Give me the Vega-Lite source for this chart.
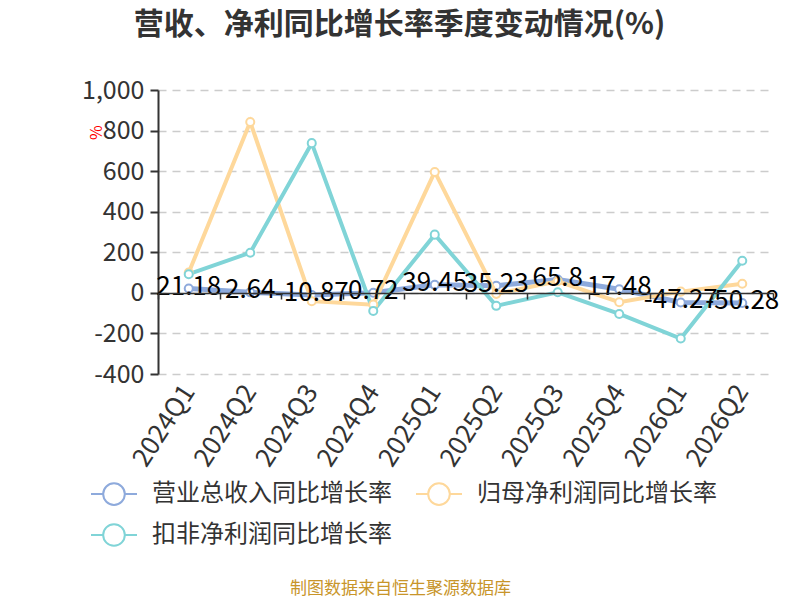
{
  "$schema": "https://vega.github.io/schema/vega-lite/v6.json",
  "width": 615,
  "height": 284,
  "autosize": {"type": "none"},
  "padding": {"left": 158, "top": 90, "right": 27, "bottom": 226},
  "background": "white",
  "config": {"font": "Noto Sans CJK SC", "view": {"stroke": null}},
  "title": {
    "text": "营收、净利同比增长率季度变动情况(%)",
    "fontSize": 30,
    "fontWeight": "bold",
    "color": "#333",
    "anchor": "middle",
    "dx": -66,
    "offset": 38
  },
  "data": {
    "values": [
      {"quarter": "2024Q1", "series": "营业总收入同比增长率", "value": 21.18},
      {"quarter": "2024Q2", "series": "营业总收入同比增长率", "value": 2.64},
      {"quarter": "2024Q3", "series": "营业总收入同比增长率", "value": -10.87},
      {"quarter": "2024Q4", "series": "营业总收入同比增长率", "value": 0.72},
      {"quarter": "2025Q1", "series": "营业总收入同比增长率", "value": 39.45},
      {"quarter": "2025Q2", "series": "营业总收入同比增长率", "value": 35.23},
      {"quarter": "2025Q3", "series": "营业总收入同比增长率", "value": 65.8},
      {"quarter": "2025Q4", "series": "营业总收入同比增长率", "value": 17.48},
      {"quarter": "2026Q1", "series": "营业总收入同比增长率", "value": -47.27},
      {"quarter": "2026Q2", "series": "营业总收入同比增长率", "value": -50.28},
      {"quarter": "2024Q1", "series": "归母净利润同比增长率", "value": 100},
      {"quarter": "2024Q2", "series": "归母净利润同比增长率", "value": 842},
      {"quarter": "2024Q3", "series": "归母净利润同比增长率", "value": -41},
      {"quarter": "2024Q4", "series": "归母净利润同比增长率", "value": -58},
      {"quarter": "2025Q1", "series": "归母净利润同比增长率", "value": 596},
      {"quarter": "2025Q2", "series": "归母净利润同比增长率", "value": -5},
      {"quarter": "2025Q3", "series": "归母净利润同比增长率", "value": 57},
      {"quarter": "2025Q4", "series": "归母净利润同比增长率", "value": -46},
      {"quarter": "2026Q1", "series": "归母净利润同比增长率", "value": 6},
      {"quarter": "2026Q2", "series": "归母净利润同比增长率", "value": 45},
      {"quarter": "2024Q1", "series": "扣非净利润同比增长率", "value": 92},
      {"quarter": "2024Q2", "series": "扣非净利润同比增长率", "value": 198},
      {"quarter": "2024Q3", "series": "扣非净利润同比增长率", "value": 738},
      {"quarter": "2024Q4", "series": "扣非净利润同比增长率", "value": -89},
      {"quarter": "2025Q1", "series": "扣非净利润同比增长率", "value": 287},
      {"quarter": "2025Q2", "series": "扣非净利润同比增长率", "value": -64},
      {"quarter": "2025Q3", "series": "扣非净利润同比增长率", "value": 3},
      {"quarter": "2025Q4", "series": "扣非净利润同比增长率", "value": -104},
      {"quarter": "2026Q1", "series": "扣非净利润同比增长率", "value": -225},
      {"quarter": "2026Q2", "series": "扣非净利润同比增长率", "value": 158}
    ]
  },
  "encoding": {
    "x": {
      "field": "quarter",
      "type": "ordinal",
      "sort": null,
      "scale": {"type": "band", "paddingInner": 0, "paddingOuter": 0},
      "axis": {
        "title": "制图数据来自恒生聚源数据库",
        "titleColor": "#c8952a",
        "titleFontSize": 17,
        "titleFontWeight": "normal",
        "titleX": 242,
        "titleY": 295,
        "titleAlign": "center",
        "titleBaseline": "middle",
        "offset": -81,
        "domainColor": "#333",
        "domainWidth": 1.5,
        "ticks": true,
        "tickBand": "extent",
        "tickColor": "#333",
        "tickSize": 6,
        "tickWidth": 1.5,
        "labelAngle": -57,
        "labelAlign": "right",
        "labelBaseline": "middle",
        "labelPadding": 88,
        "labelFontSize": 26,
        "labelColor": "#333",
        "labelOverlap": false,
        "grid": false,
        "zindex": 1
      }
    },
    "y": {
      "field": "value",
      "type": "quantitative",
      "scale": {"domain": [-400, 1000], "nice": false, "zero": false},
      "axis": {
        "title": "%",
        "titleColor": "red",
        "titleFontSize": 16,
        "titleFontWeight": "normal",
        "titleAngle": -90,
        "titleX": -62,
        "titleY": 42,
        "titleAlign": "center",
        "titleBaseline": "middle",
        "values": [-400, -200, 0, 200, 400, 600, 800, 1000],
        "labelExpr": "replace(format(datum.value, ','), '\u2212', '-')",
        "labelFontSize": 25,
        "labelColor": "#333",
        "labelPadding": 6,
        "domainColor": "#333",
        "domainWidth": 2,
        "tickColor": "#333",
        "tickSize": 8,
        "tickWidth": 2,
        "gridColor": "#cccccc",
        "gridDash": [8, 6],
        "gridWidth": 1.5
      }
    },
    "color": {
      "field": "series",
      "type": "nominal",
      "scale": {
        "domain": ["营业总收入同比增长率", "归母净利润同比增长率", "扣非净利润同比增长率"],
        "range": ["#8eaadc", "#fed89b", "#80d4d7"]
      },
      "legend": {
        "title": null,
        "orient": "none",
        "legendX": -68,
        "legendY": 380,
        "direction": "horizontal",
        "columns": 2,
        "labelFontSize": 24,
        "labelColor": "#333",
        "labelLimit": 400,
        "labelOffset": 14,
        "columnPadding": 20,
        "rowPadding": 2,
        "symbolType": "M-1,0L-0.47,0M0.47,0L1,0M0.47,0A0.47,0.47,0,1,1,-0.47,0A0.47,0.47,0,1,1,0.47,0Z",
        "symbolSize": 2116,
        "symbolStrokeWidth": 2,
        "symbolFillColor": "white"
      }
    }
  },
  "layer": [
    {
      "transform": [{"filter": "datum.series === '营业总收入同比增长率'"}],
      "mark": {
        "type": "line",
        "strokeWidth": 5,
        "point": {"filled": false, "fill": "white", "size": 65, "strokeWidth": 2}
      }
    },
    {
      "transform": [{"filter": "datum.series !== '营业总收入同比增长率'"}],
      "mark": {
        "type": "line",
        "strokeWidth": 4,
        "point": {"filled": false, "fill": "white", "size": 65, "strokeWidth": 2}
      }
    },
    {
      "transform": [{"filter": "datum.series === '营业总收入同比增长率'"}],
      "mark": {"type": "text", "fontSize": 26, "baseline": "alphabetic", "dy": 6},
      "encoding": {
        "text": {"field": "value", "type": "nominal"},
        "color": {"value": "black"}
      }
    }
  ]
}
